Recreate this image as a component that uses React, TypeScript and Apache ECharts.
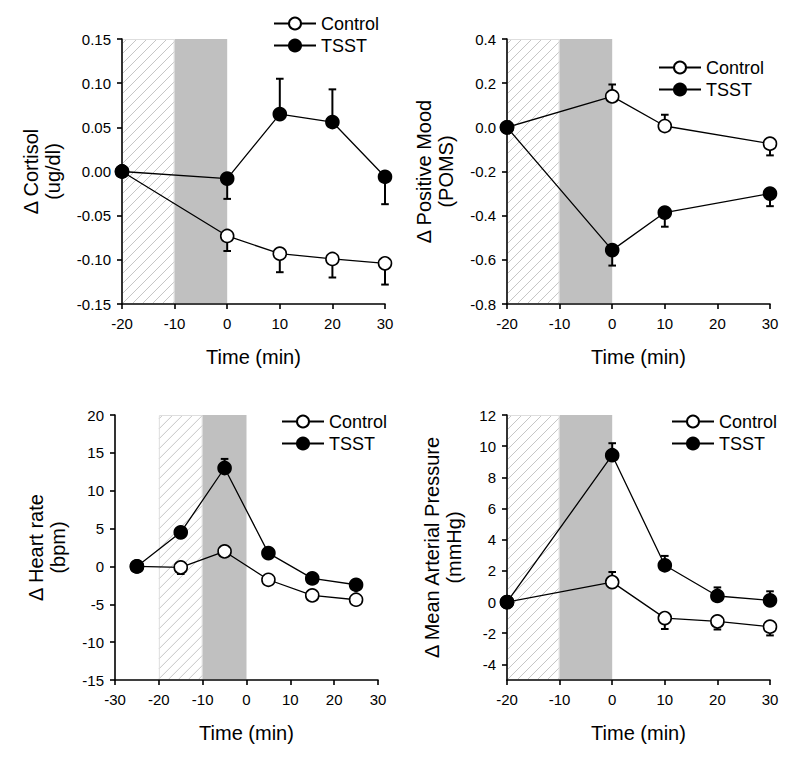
import React, { useEffect, useRef } from "react";
import * as echarts from "echarts";

// ---------- data ----------
const seriesNames = ["Control", "TSST"];

// Panel A: cortisol
const cortisolTime = [-20, 0, 10, 20, 30];
const cortisolControl = [0, -0.073, -0.093, -0.099, -0.104];
const cortisolControlErr = [null, -0.09, -0.114, -0.12, -0.128];
const cortisolTSST = [0, -0.008, 0.065, 0.056, -0.006];
const cortisolTSSTErr = [null, -0.031, 0.105, 0.093, -0.037];

// Panel B: positive mood
const moodTime = [-20, 0, 10, 30];
const moodControl = [0, 0.14, 0.006, -0.074];
const moodControlErr = [null, 0.194, 0.057, -0.127];
const moodTSST = [0, -0.556, -0.386, -0.3];
const moodTSSTErr = [null, -0.626, -0.45, -0.357];

// Panel C: heart rate
const hrTime = [-25, -15, -5, 5, 15, 25];
const hrControl = [0, -0.13, 1.98, -1.76, -3.83, -4.4];
const hrControlErr = [null, -1.0, null, null, null, null];
const hrTSST = [0, 4.5, 13.0, 1.76, -1.58, -2.42];
const hrTSSTErr = [null, null, 14.2, null, null, null];

// Panel D: mean arterial pressure
const mapTime = [-20, 0, 10, 20, 30];
const mapControl = [0, 1.28, -1.03, -1.24, -1.58];
const mapControlErr = [null, 1.93, -1.73, -1.76, -2.14];
const mapTSST = [0, 9.42, 2.36, 0.39, 0.11];
const mapTSSTErr = [null, 10.19, 2.96, 0.94, 0.69];

// shaded periods (anticipation = hatched, task = grey)
const hatchPeriod = [-20, -10];
const greyPeriod = [-10, 0];

// axis settings
const xRanges = [
  [-20, 30, 10],
  [-20, 30, 10],
  [-30, 30, 10],
  [-20, 30, 10],
];
const yRanges = [
  [-0.15, 0.15, 0.05],
  [-0.8, 0.4, 0.2],
  [-15, 20, 5],
  [-5, 12, 2],
];
const mapYTicks = [-4, -2, 0, 2, 4, 6, 8, 10, 12];
const yNames = [
  "\u0394 Cortisol\n(ug/dl)",
  "\u0394 Positive Mood\n(POMS)",
  "\u0394 Heart rate\n(bpm)",
  "\u0394 Mean Arterial Pressure\n(mmHg)",
];
const yDecimals = [2, 1, 0, 0];
const xName = "Time (min)";

// ---------- layout ----------
const FONT = "'Liberation Sans', Arial, Helvetica, sans-serif";
const grids = [
  { left: 122, top: 39, width: 263, height: 265 },
  { left: 507, top: 39, width: 263, height: 265 },
  { left: 115, top: 415, width: 263, height: 265 },
  { left: 507, top: 415, width: 263, height: 265 },
];
const yNameGaps = [58, 50, 46, 42];
const legendPos = [
  { left: 273, top: 13 },
  { left: 658, top: 57 },
  { left: 281, top: 411 },
  { left: 671, top: 411 },
];

const panels = [
  { time: cortisolTime, c: cortisolControl, ce: cortisolControlErr, t: cortisolTSST, te: cortisolTSSTErr },
  { time: moodTime, c: moodControl, ce: moodControlErr, t: moodTSST, te: moodTSSTErr },
  { time: hrTime, c: hrControl, ce: hrControlErr, t: hrTSST, te: hrTSSTErr },
  { time: mapTime, c: mapControl, ce: mapControlErr, t: mapTSST, te: mapTSSTErr },
];

function bandRender(params: any, api: any) {
  const cs = params.coordSys;
  const kind = api.value(2);
  let x0 = api.coord([api.value(0), 0])[0];
  const x1 = api.coord([api.value(1), 0])[0];
  const atAxis = x0 <= cs.x + 1;
  if (atAxis) x0 = cs.x + 1;
  const y0 = cs.y;
  const y1 = cs.y + cs.height - 1;
  if (kind === 1) {
    return {
      type: "rect",
      shape: { x: x0, y: y0, width: x1 - x0, height: y1 - y0 },
      style: { fill: "#c0c0c0" },
    };
  }
  const children: any[] = [];
  const s = 10;
  const kStart = x0 + y0;
  const kEnd = x1 + y1;
  for (let k = kStart + 4; k < kEnd; k += s) {
    const xa = Math.max(x0, k - y1);
    const xb = Math.min(x1, k - y0);
    if (xb <= xa) continue;
    children.push({
      type: "line",
      shape: { x1: xa, y1: k - xa, x2: xb, y2: k - xb },
      style: { stroke: "#c6c6c6", lineWidth: 1 },
    });
  }
  // light frame (skip left side when it sits on the y axis)
  children.push({
    type: "polyline",
    shape: {
      points: atAxis
        ? [[x0, y0 + 0.5], [x1 - 0.5, y0 + 0.5], [x1 - 0.5, y1]]
        : [[x0 + 0.5, y1], [x0 + 0.5, y0 + 0.5], [x1 - 0.5, y0 + 0.5], [x1 - 0.5, y1]],
    },
    style: { stroke: "#dedede", lineWidth: 1, fill: "none" },
  });
  return { type: "group", children };
}

function errRender(params: any, api: any) {
  const x = api.value(0);
  const p = api.coord([x, api.value(1)]);
  const q = api.coord([x, api.value(2)]);
  return {
    type: "group",
    children: [
      {
        type: "line",
        shape: { x1: p[0], y1: p[1], x2: q[0], y2: q[1] },
        style: { stroke: "#000", lineWidth: 2 },
      },
      {
        type: "line",
        shape: { x1: q[0] - 3.8, y1: q[1], x2: q[0] + 3.8, y2: q[1] },
        style: { stroke: "#000", lineWidth: 2 },
      },
    ],
  };
}

function axisBase() {
  return {
    z: 2,
    axisLine: { show: true, onZero: false, lineStyle: { color: "#000", width: 1.6 } },
    axisTick: { show: true, inside: false, length: 5, lineStyle: { color: "#000", width: 1.6 } } as any,
    splitLine: { show: false },
  };
}

function buildOption() {
  const xAxis: any[] = [];
  const yAxis: any[] = [];
  const series: any[] = [];
  const legend: any[] = [];

  panels.forEach((p, i) => {
    const [xmin, xmax, xint] = xRanges[i];
    const [ymin, ymax, yint] = yRanges[i];
    xAxis.push({
      ...axisBase(),
      type: "value",
      gridIndex: i,
      min: xmin,
      max: xmax,
      interval: xint,
      name: xName,
      nameLocation: "middle",
      nameGap: 43,
      nameTextStyle: { fontSize: 20, color: "#000", fontFamily: FONT },
      axisLabel: { color: "#000", fontSize: 15, fontFamily: FONT, margin: 12 },
    });
    const yAx: any = {
      ...axisBase(),
      type: "value",
      gridIndex: i,
      min: ymin,
      max: ymax,
      name: yNames[i],
      nameLocation: "middle",
      nameRotate: 90,
      nameGap: yNameGaps[i],
      nameTextStyle: { fontSize: 20, lineHeight: 22, color: "#000", fontFamily: FONT, align: "center" },
      axisLabel: {
        color: "#000",
        fontSize: 15,
        fontFamily: FONT,
        margin: 11,
        formatter: (v: number) => (Math.abs(v) < 1e-9 ? 0 : v).toFixed(yDecimals[i]),
      },
    };
    if (i === 3) {
      yAx.axisLabel.customValues = mapYTicks;
      yAx.axisTick.customValues = mapYTicks;
    } else {
      yAx.interval = yint;
    }
    yAxis.push(yAx);

    // shaded periods
    series.push({
      type: "custom",
      name: "period" + i,
      xAxisIndex: i,
      yAxisIndex: i,
      z: 1,
      silent: true,
      renderItem: bandRender,
      encode: { x: [0, 1] },
      data: [
        [hatchPeriod[0], hatchPeriod[1], 0],
        [greyPeriod[0], greyPeriod[1], 1],
      ],
    });

    const groups = [
      { name: seriesNames[0], vals: p.c, errs: p.ce, fill: "#fff" },
      { name: seriesNames[1], vals: p.t, errs: p.te, fill: "#000" },
    ];
    groups.forEach((g) => {
      const errData: any[] = [];
      p.time.forEach((x, j) => {
        if (g.errs[j] !== null) errData.push([x, g.vals[j], g.errs[j]]);
      });
      series.push({
        type: "custom",
        name: g.name + " error",
        xAxisIndex: i,
        yAxisIndex: i,
        z: 3,
        silent: true,
        renderItem: errRender,
        encode: { x: 0, y: [1, 2] },
        data: errData,
      });
    });
    groups.forEach((g) => {
      series.push({
        type: "line",
        name: g.name,
        xAxisIndex: i,
        yAxisIndex: i,
        z: 4,
        data: p.time.map((x, j) => [x, g.vals[j]]),
        symbol: "circle",
        symbolSize: 13,
        showSymbol: true,
        lineStyle: { color: "#000", width: 1.3 },
        itemStyle: { color: g.fill, borderColor: "#000", borderWidth: 1.6 },
        emphasis: { disabled: true },
      });
    });

    legend.push({
      data: seriesNames,
      orient: "vertical",
      left: legendPos[i].left,
      top: legendPos[i].top,
      padding: 0,
      itemGap: 1,
      itemWidth: 42,
      itemHeight: 15,
      selectedMode: false,
      textStyle: { fontSize: 18, lineHeight: 21, color: "#000", fontFamily: FONT },
    });
  });

  return {
    animation: false,
    backgroundColor: "#fff",
    grid: grids.map((g) => ({ ...g, containLabel: false })),
    xAxis,
    yAxis,
    legend,
    series,
  };
}

export default function App() {
  const ref = useRef<HTMLDivElement>(null);
  useEffect(() => {
    if (!ref.current) return;
    const chart = echarts.init(ref.current, null, { renderer: "svg" });
    chart.setOption(buildOption() as any);
    return () => chart.dispose();
  }, []);
  return (
    <div
      ref={ref}
      style={{ position: "fixed", left: 0, top: 0, width: 800, height: 759, background: "#fff" }}
    />
  );
}
